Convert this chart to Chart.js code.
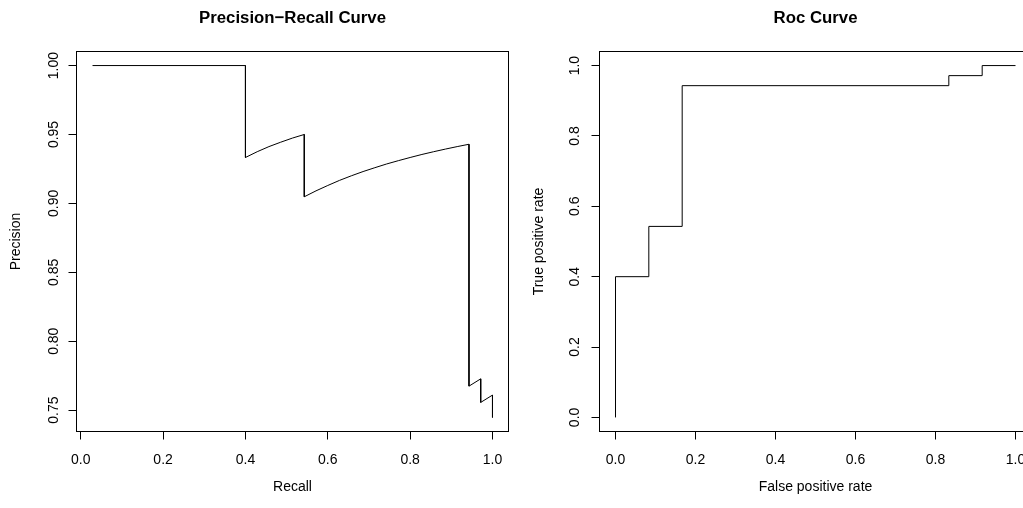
<!DOCTYPE html>
<html>
<head>
<meta charset="utf-8">
<script src="https://cdn.jsdelivr.net/npm/chart.js@4.4.1/dist/chart.umd.min.js"></script>
<style>
  html, body { margin: 0; padding: 0; background: #fff; overflow: hidden; width: 1023px; height: 508px; position: relative; }
  canvas { position: absolute; top: 0; background: transparent; }
  #pr { left: 0px; }
  #roc { left: 523px; }
</style>
</head>
<body>
<canvas id="pr" width="585" height="508"></canvas>
<canvas id="roc" width="585" height="508"></canvas>
<script>
// ---- data ----
const recall = [0.0286, 0.4000, 0.4000, 0.4286, 0.4571, 0.4857, 0.5143, 0.5429, 0.5429, 0.5714, 0.6000, 0.6286, 0.6571, 0.6857, 0.7143, 0.7429, 0.7714, 0.8000, 0.8286, 0.8571, 0.8857, 0.9143, 0.9429, 0.9429, 0.9714, 0.9714, 1.0000, 1.0000];
const precision = [1.0000, 1.0000, 0.9333, 0.9375, 0.9412, 0.9444, 0.9474, 0.9500, 0.9048, 0.9091, 0.9130, 0.9167, 0.9200, 0.9231, 0.9259, 0.9286, 0.9310, 0.9333, 0.9355, 0.9375, 0.9394, 0.9412, 0.9429, 0.7674, 0.7727, 0.7556, 0.7609, 0.7447];

const fpr = [0, 0, 0.0833, 0.0833, 0.1667, 0.1667, 0.8333, 0.8333, 0.9167, 0.9167, 1.0];
const tpr = [0, 0.4000, 0.4000, 0.5429, 0.5429, 0.9429, 0.9429, 0.9714, 0.9714, 1.0, 1.0];

const xTicks = [0, 0.2, 0.4, 0.6, 0.8, 1.0];
const xTickLabels = ["0.0", "0.2", "0.4", "0.6", "0.8", "1.0"];
const prYTicks = [0.75, 0.80, 0.85, 0.90, 0.95, 1.00];
const prYTickLabels = ["0.75", "0.80", "0.85", "0.90", "0.95", "1.00"];
const rocYTicks = [0, 0.2, 0.4, 0.6, 0.8, 1.0];
const rocYTickLabels = ["0.0", "0.2", "0.4", "0.6", "0.8", "1.0"];

// ---- styling ----
const FONT = "'Liberation Sans', Arial, Helvetica, sans-serif";
Chart.defaults.font.family = FONT;
Chart.defaults.color = '#000';

const boxPlugin = {
  id: 'box',
  afterDraw(chart) {
    const a = chart.chartArea, ctx = chart.ctx;
    ctx.save();
    ctx.strokeStyle = '#000';
    ctx.lineWidth = 1;
    ctx.strokeRect(a.left, a.top, a.right - a.left, a.bottom - a.top);
    ctx.restore();
  }
};

function makeChart(id, xs, ys, cfg) {
  const data = xs.map((x, i) => ({ x: x, y: ys[i] }));
  return new Chart(document.getElementById(id), {
    type: 'line',
    data: { datasets: [{ data: data, borderColor: '#000', borderWidth: 1, pointRadius: 0, tension: 0, fill: false }] },
    options: {
      responsive: false,
      animation: false,
      events: [],
      layout: { padding: 0 },
      plugins: {
        legend: { display: false },
        tooltip: { enabled: false },
        title: {
          display: true, text: cfg.title,
          font: { size: 16.8, weight: 'bold', family: FONT, lineHeight: 1.2 },
          color: '#000',
          padding: { top: 7.9, bottom: 23.44 }
        }
      },
      scales: {
        x: {
          type: 'linear', min: cfg.xMin, max: cfg.xMax,
          afterBuildTicks: (s) => { s.ticks = xTicks.map(v => ({ value: v })); },
          afterFit: (s) => { s.height = 76.5; },
          ticks: { callback: (v, i) => xTickLabels[i], font: { size: 14 }, padding: 12.5, color: '#000', maxRotation: 0, autoSkip: false },
          grid: { display: true, drawOnChartArea: false, drawTicks: true, tickLength: 8, color: '#000', lineWidth: 1 },
          border: { display: false },
          title: { display: true, text: cfg.xTitle, font: { size: 14 }, color: '#000', padding: { top: 0, bottom: 12.6 } }
        },
        y: {
          type: 'linear', min: cfg.yMin, max: cfg.yMax,
          afterBuildTicks: (s) => { s.ticks = cfg.yTicks.map(v => ({ value: v })); },
          afterFit: (s) => { s.width = 76.5; },
          ticks: { callback: (v, i) => cfg.yTickLabels[i], font: { size: 14 }, padding: cfg.yPad, color: '#000', minRotation: 90, maxRotation: 90, crossAlign: 'center', autoSkip: false },
          grid: { display: true, drawOnChartArea: false, drawTicks: true, tickLength: 8, color: '#000', lineWidth: 1 },
          border: { display: false },
          title: { display: true, text: cfg.yTitle, font: { size: 14 }, color: '#000', padding: { top: 7.6, bottom: 0 } }
        },
        // empty right-hand margin (same width as the left axis) so the title centres over the plot box
        yMargin: {
          type: 'linear', position: 'right', display: true,
          afterFit: (s) => { s.width = 76.5; },
          ticks: { display: false },
          grid: { display: false, drawTicks: false },
          border: { display: false },
          title: { display: false }
        }
      }
    },
    plugins: [boxPlugin]
  });
}

makeChart('pr', recall, precision, {
  title: 'Precision\u2212Recall Curve',
  xTitle: 'Recall', yTitle: 'Precision',
  xMin: -0.0103, xMax: 1.0389, yMin: 0.7345, yMax: 1.0102,
  yTicks: prYTicks, yTickLabels: prYTickLabels, yPad: 0.4
});

makeChart('roc', fpr, tpr, {
  title: 'Roc Curve',
  xTitle: 'False positive rate', yTitle: 'True positive rate',
  xMin: -0.04, xMax: 1.04, yMin: -0.04, yMax: 1.04,
  yTicks: rocYTicks, yTickLabels: rocYTickLabels, yPad: 6.3
});
</script>
</body>
</html>
